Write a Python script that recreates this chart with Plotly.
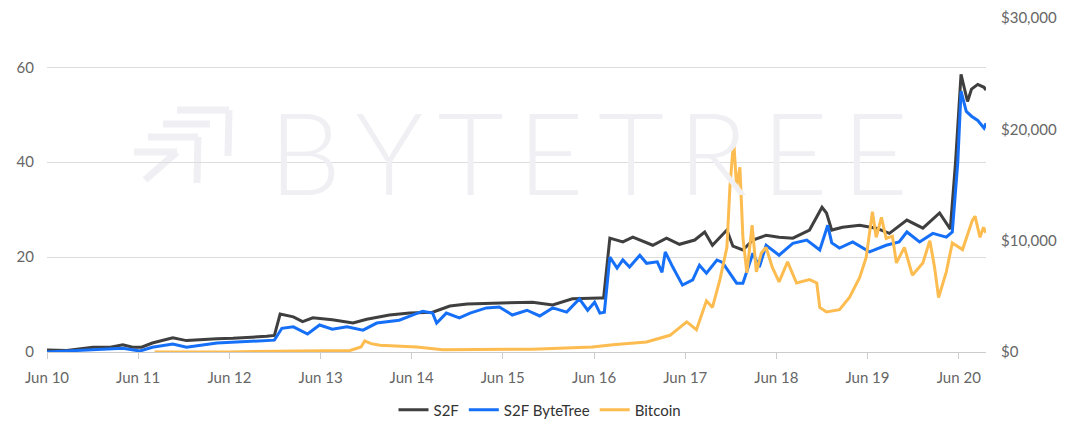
import plotly.graph_objects as go

# S2F model (left axis)
s2f_dates = [
    "2010-06-01", "2010-08-19", "2010-12-02", "2011-02-10", "2011-04-01", "2011-05-10",
    "2011-06-15", "2011-07-28", "2011-10-18", "2011-12-12", "2012-04-12", "2012-06-15",
    "2012-10-28", "2012-11-28", "2012-12-21", "2013-02-12", "2013-03-21", "2013-05-01",
    "2013-07-18", "2013-10-09", "2013-12-03", "2014-03-04", "2014-05-24", "2014-08-24",
    "2014-11-01", "2015-01-09", "2015-04-21", "2015-09-28", "2015-12-18", "2016-03-06",
    "2016-06-24", "2016-07-09", "2016-08-03", "2016-09-24", "2016-11-03", "2017-01-22",
    "2017-03-18", "2017-05-09", "2017-07-09", "2017-08-18", "2017-09-18", "2017-11-15",
    "2017-12-09", "2018-01-18", "2018-02-27", "2018-04-21", "2018-06-12", "2018-08-06",
    "2018-10-12", "2018-12-01", "2018-12-19", "2019-01-09", "2019-02-21", "2019-05-01",
    "2019-07-06", "2019-08-28", "2019-11-06", "2020-01-09", "2020-03-16", "2020-04-28",
    "2020-05-19", "2020-06-10", "2020-07-06", "2020-07-22", "2020-08-16", "2020-09-10",
    "2020-09-18",
]
s2f_values = [
    0.4, 0.3, 1.0, 1.0, 1.5, 1.0,
    1.0, 1.9, 3.0, 2.4, 2.8, 2.9,
    3.3, 3.5, 8.0, 7.4, 6.4, 7.2,
    6.8, 6.1, 6.9, 7.8, 8.2, 8.4,
    9.7, 10.1, 10.3, 10.5, 9.9, 11.2,
    11.4, 11.4, 24.0, 23.2, 24.2, 22.5,
    24.0, 22.7, 23.6, 25.3, 22.5, 25.7,
    22.3, 21.5, 23.6, 24.6, 24.2, 24.0,
    25.7, 30.5, 29.3, 25.7, 26.3, 26.7,
    26.1, 25.0, 27.8, 26.1, 29.3, 25.9,
    40.0, 58.5, 52.8, 55.4, 56.4, 55.8,
    55.2,
]

# S2F ByteTree (left axis)
bt_dates = [
    "2010-06-01", "2010-12-02", "2011-04-01", "2011-06-08", "2011-07-28", "2011-10-18",
    "2011-12-12", "2012-04-12", "2012-10-28", "2012-11-28", "2012-12-28", "2013-02-12",
    "2013-04-10", "2013-05-28", "2013-07-18", "2013-09-15", "2013-11-18", "2014-01-12",
    "2014-04-12", "2014-07-15", "2014-08-24", "2014-09-09", "2014-10-18", "2014-12-09",
    "2015-01-21", "2015-03-27", "2015-05-18", "2015-07-09", "2015-09-06", "2015-10-27",
    "2015-12-18", "2016-02-12", "2016-04-03", "2016-05-06", "2016-06-03", "2016-06-24",
    "2016-07-12", "2016-08-03", "2016-09-01", "2016-09-24", "2016-10-21", "2016-12-01",
    "2016-12-28", "2017-02-09", "2017-02-28", "2017-03-13", "2017-04-12", "2017-05-21",
    "2017-07-01", "2017-07-28", "2017-08-25", "2017-10-06", "2017-10-28", "2017-12-24",
    "2018-01-18", "2018-02-27", "2018-03-25", "2018-04-21", "2018-06-12", "2018-08-06",
    "2018-10-01", "2018-11-22", "2018-12-24", "2019-01-09", "2019-02-09", "2019-04-03",
    "2019-06-09", "2019-08-15", "2019-10-06", "2019-11-06", "2019-12-27", "2020-02-18",
    "2020-04-12", "2020-05-06", "2020-05-28", "2020-06-10", "2020-07-01", "2020-07-22",
    "2020-08-16", "2020-09-10", "2020-09-18",
]
bt_values = [
    0.0, 0.4, 0.8, 0.2, 1.0, 1.7,
    1.0, 1.9, 2.5, 2.5, 5.0, 5.3,
    3.8, 5.7, 4.8, 5.3, 4.6, 6.1,
    6.7, 8.6, 8.2, 6.1, 8.2, 7.2,
    8.2, 9.3, 9.5, 7.8, 8.8, 7.6,
    9.3, 8.4, 11.2, 8.8, 10.5, 8.2,
    8.4, 20.0, 17.7, 19.4, 17.9, 20.4,
    18.7, 19.0, 16.8, 21.1, 17.9, 14.1,
    15.2, 18.3, 16.6, 19.4, 18.9, 14.5,
    14.5, 20.8, 17.9, 22.5, 20.4, 22.9,
    23.6, 21.5, 26.7, 23.0, 21.9, 23.2,
    21.1, 22.5, 23.2, 25.3, 23.2, 25.0,
    24.2, 25.3, 40.0, 55.0, 50.7, 49.7,
    48.8, 47.2, 48.2,
]

# Bitcoin price, USD (right axis)
btc_dates = [
    "2011-08-06", "2012-06-01", "2013-03-10", "2013-09-27", "2013-11-10", "2013-11-25",
    "2013-12-20", "2014-01-25", "2014-06-21", "2014-10-04", "2015-09-28", "2016-05-25",
    "2016-08-15", "2016-12-28", "2017-04-01", "2017-06-07", "2017-07-16", "2017-08-25",
    "2017-09-18", "2017-10-18", "2017-11-15", "2017-11-27", "2017-12-12", "2017-12-24",
    "2018-01-06", "2018-01-18", "2018-02-03", "2018-02-24", "2018-03-13", "2018-04-02",
    "2018-04-21", "2018-05-16", "2018-06-12", "2018-07-16", "2018-08-21", "2018-10-12",
    "2018-11-10", "2018-11-22", "2018-12-19", "2019-02-09", "2019-03-21", "2019-05-01",
    "2019-05-27", "2019-06-21", "2019-07-06", "2019-07-27", "2019-08-15", "2019-09-09",
    "2019-09-25", "2019-10-27", "2019-11-28", "2020-01-09", "2020-02-06", "2020-02-25",
    "2020-03-12", "2020-04-12", "2020-05-06", "2020-06-16", "2020-07-25", "2020-08-05",
    "2020-08-25", "2020-09-08", "2020-09-18",
]
btc_values = [
    10, 6, 90, 130, 450, 1000,
    750, 600, 450, 200, 250, 450,
    650, 900, 1500, 2700, 2000, 4600,
    4000, 6500, 9400, 14800, 19000, 14800,
    16600, 10300, 7100, 11400, 7200, 8900,
    9400, 7600, 6300, 8100, 6200, 6500,
    6200, 4000, 3600, 3800, 4900, 6700,
    8500, 12600, 10300, 12100, 10200, 10400,
    8000, 9400, 6900, 8000, 10000, 7600,
    4900, 7200, 9800, 9200, 11800, 12200,
    10300, 11200, 10700,
]

right_ticks = [0, 10000, 20000, 30000]
right_labels = ["$" + f"{v:,}" for v in right_ticks]

W, H = 1080, 423
OFF = 8  # the page body margin shifts the figure by this much
# plot-area bounds on screen, in pixels
X0, X1, Y0, Y1 = 47, 986, 18, 352


def px(x):
    return (x - X0) / (X1 - X0)


def py(y):
    return (Y1 - y) / (Y1 - Y0)


fig = go.Figure()
fig.add_trace(go.Scatter(x=s2f_dates, y=s2f_values, name="S2F", mode="lines",
                         line=dict(color="#3f3f3f", width=3)))
fig.add_trace(go.Scatter(x=bt_dates, y=bt_values, name="S2F ByteTree", mode="lines",
                         line=dict(color="#1670f7", width=3)))
fig.add_trace(go.Scatter(x=btc_dates, y=btc_values, name="Bitcoin", mode="lines",
                         line=dict(color="#fdbc50", width=3), yaxis="y2"))

# watermark
wm = "#f0f0f4"
fig.add_annotation(text="B\u2009Y\u2009T\u2009E\u2009T\u2009R\u2009E\u2009E", xref="paper", yref="paper",
                   x=px(588), y=py(150), showarrow=False,
                   font=dict(family="Lato", size=114, color=wm, weight=300))
logo = [
    ((177, 110), (229, 110)), ((229, 110), (228, 156)),
    ((163, 124), (210, 124)),
    ((148, 137), (198, 137)), ((198, 137), (197, 183)),
    ((134, 152), (177, 152)), ((177, 152), (145, 180)),
]
shapes = []
for (xa, ya), (xb, yb) in logo:
    shapes.append(dict(type="line", xref="paper", yref="paper", layer="below",
                       x0=px(xa), y0=py(ya), x1=px(xb), y1=py(yb),
                       line=dict(color=wm, width=7)))

fig.update_layout(
    width=W, height=H,
    margin=dict(l=X0 - OFF, r=W - (X1 - OFF), t=Y0 - OFF, b=H - (Y1 - OFF), autoexpand=False),
    paper_bgcolor="white", plot_bgcolor="white",
    font=dict(family="Lato", size=15, color="#666666"),
    shapes=shapes,
    showlegend=True,
    legend=dict(orientation="h", x=(540 - OFF) / W, xanchor="center", xref="container",
                y=(H - (410 - OFF)) / H, yanchor="middle", yref="container",
                font=dict(size=15, color="#333333"), itemwidth=30),
    xaxis=dict(type="date", range=["2010-06-01", "2020-09-18"],
               tick0="2010-06-01", dtick="M12", tickformat="%b %y",
               showgrid=False, showline=True, linecolor="#cccccc", linewidth=1,
               ticks="outside", ticklen=6, tickcolor="#cccccc", zeroline=False,
               ticklabelstandoff=6),
    yaxis=dict(range=[0, 70.4], tickvals=[0, 20, 40, 60], showgrid=True,
               gridcolor="#dddddd", zeroline=False, showline=False, ticks="",
               ticklabelstandoff=12),
    yaxis2=dict(range=[0, 30000], tickvals=right_ticks, ticktext=right_labels,
                overlaying="y", side="right", showgrid=False,
                zeroline=False, showline=False, ticklabelstandoff=14),
)

fig.write_html("out.html")
